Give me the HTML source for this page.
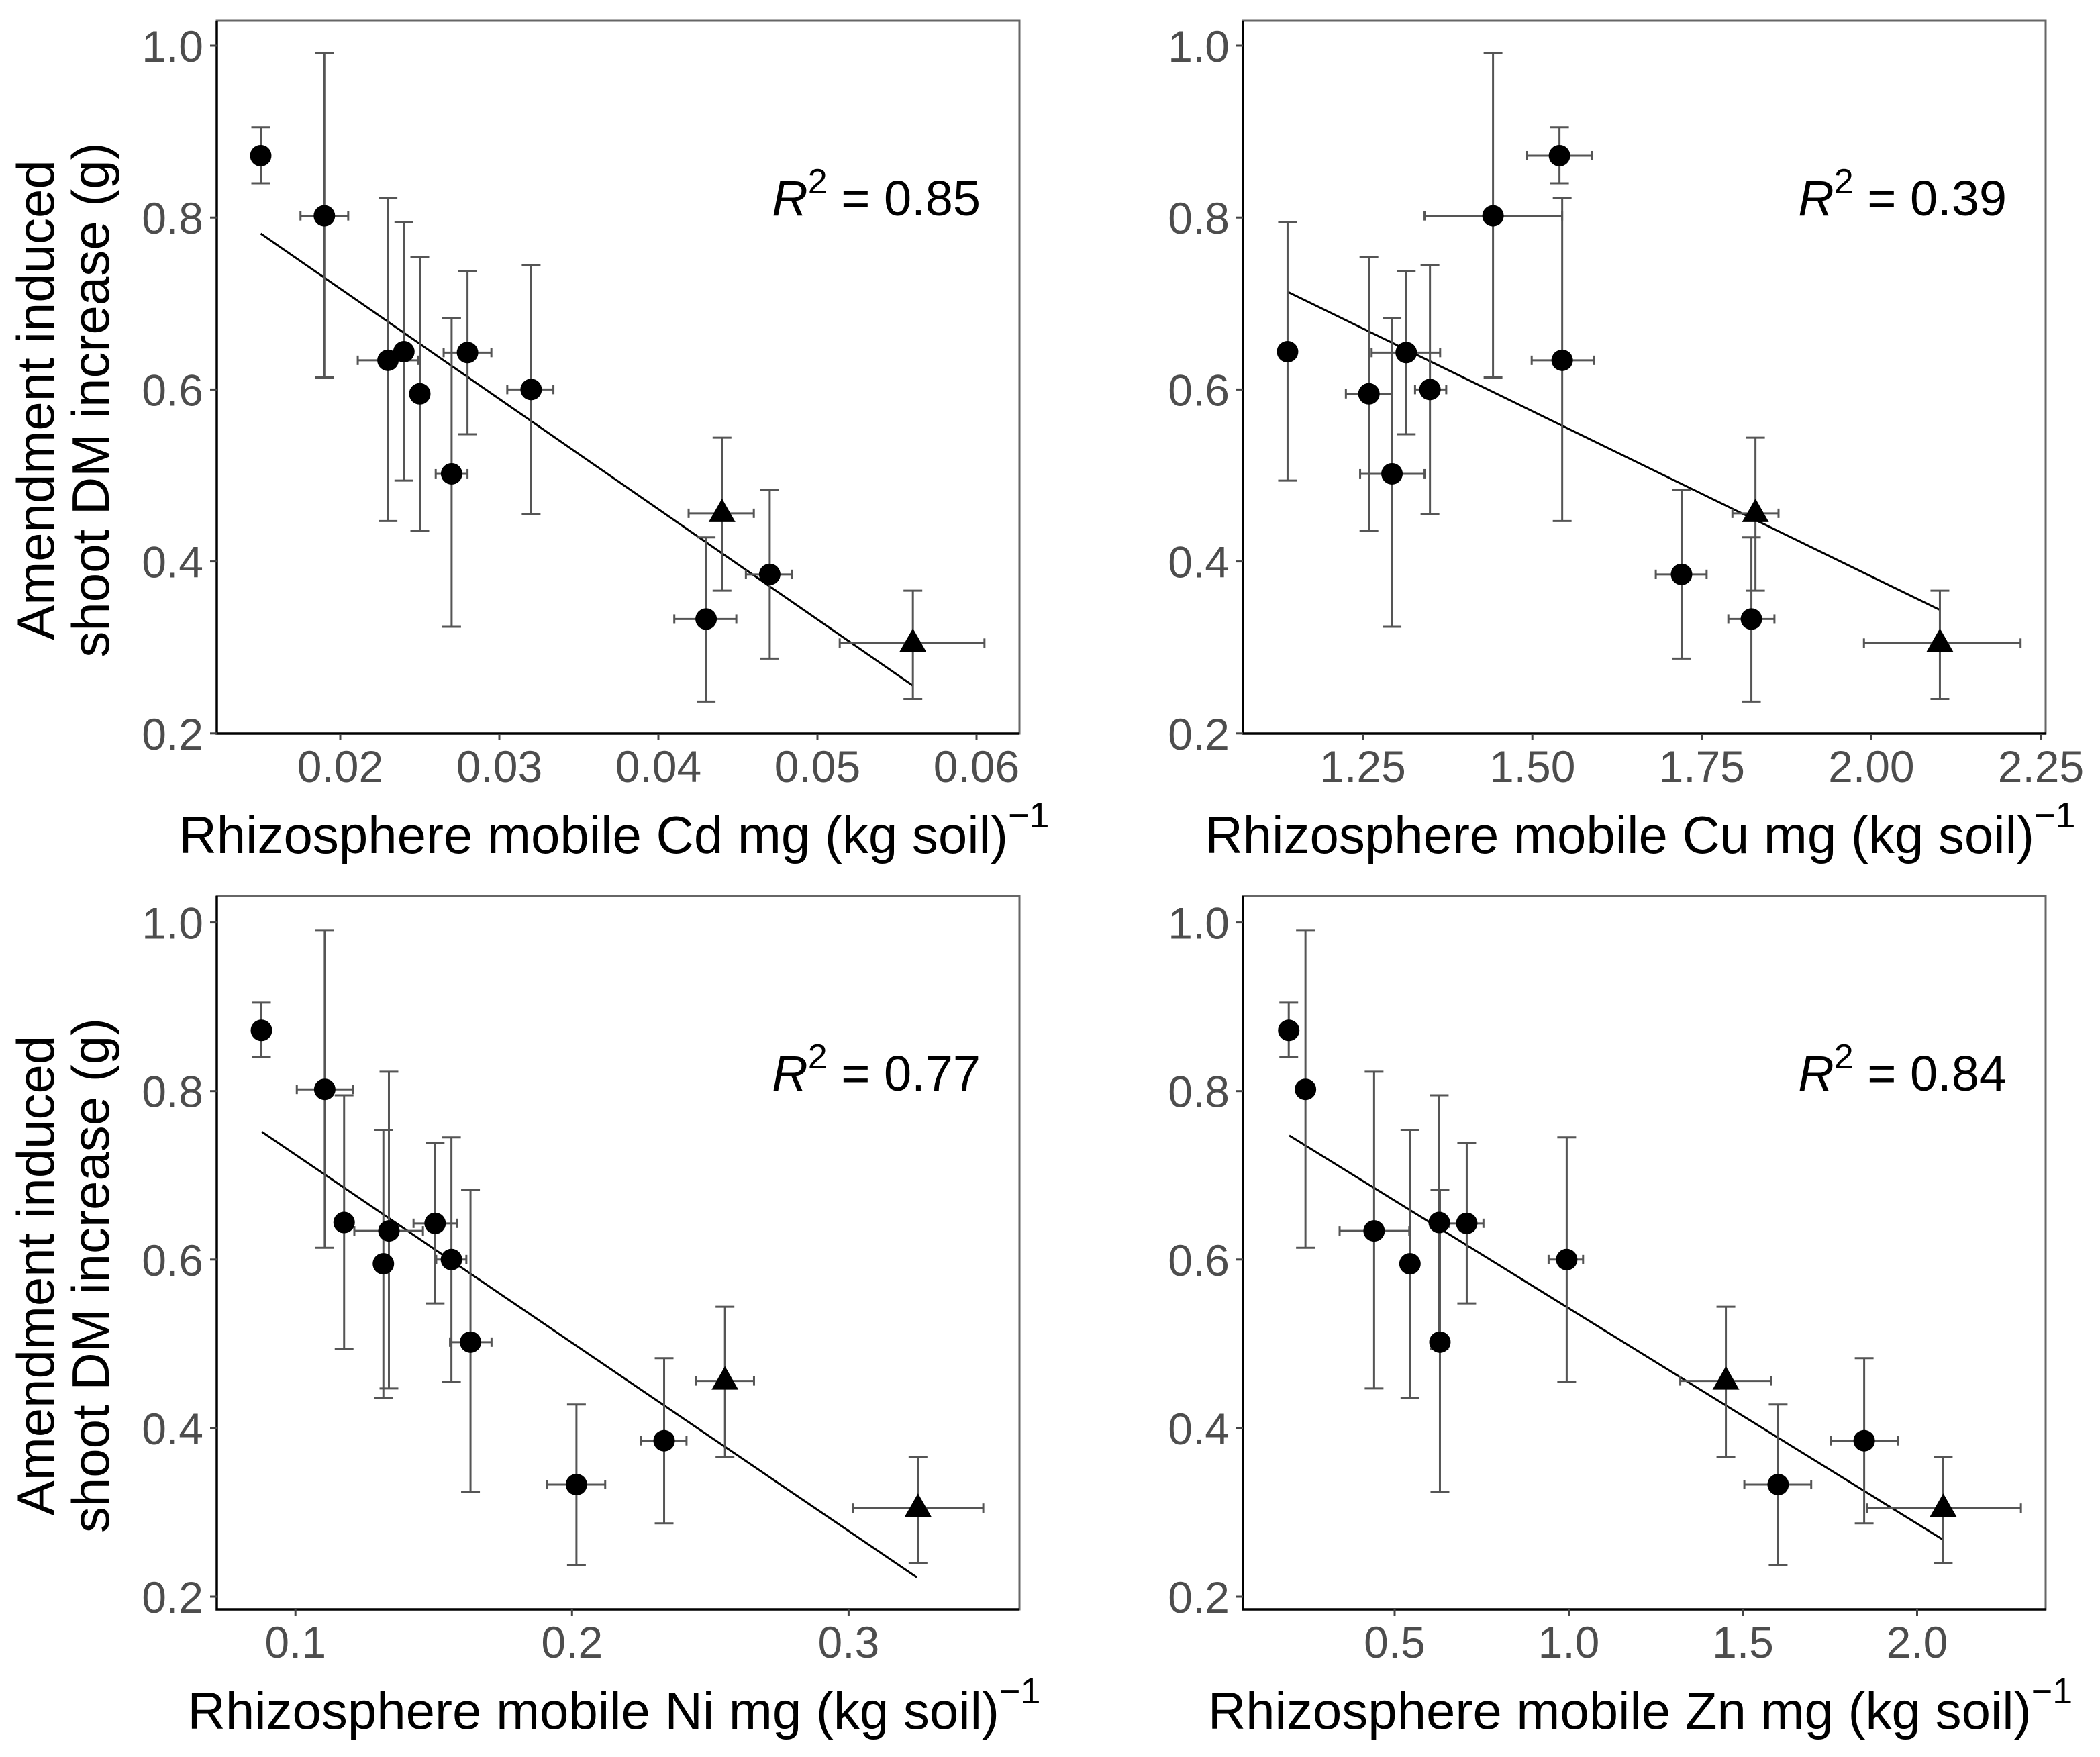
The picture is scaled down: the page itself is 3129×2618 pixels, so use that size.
<!DOCTYPE html>
<html><head><meta charset="utf-8"><style>
html,body{margin:0;padding:0;background:#fff}
svg{display:block}
</style></head><body>
<svg id="chart" width="3129" height="2618" viewBox="0 0 3129 2618" xmlns="http://www.w3.org/2000/svg" font-family="Liberation Sans, Arial, sans-serif"></svg>
<script>
// Shared response values (shoot DM increase, g)
const yVals = [0.872,0.802,0.634,0.644,0.595,0.502,0.643,0.600,0.456,0.333,0.385,0.305];
const yLo   = [0.840,0.614,0.447,0.494,0.436,0.324,0.548,0.455,0.366,0.237,0.287,0.240];
const yHi   = [0.905,0.991,0.823,0.795,0.754,0.683,0.738,0.745,0.544,0.428,0.483,0.366];
const shapes = ['c','c','c','c','c','c','c','c','t','c','c','t'];
const yTickLabels = ['1.0','0.8','0.6','0.4','0.2'];
const yTickValues = [1.0,0.8,0.6,0.4,0.2];

// Cd
const cdX  = [0.015,0.019,0.023,0.024,0.025,0.027,0.028,0.032,0.044,0.043,0.047,0.056];
const cdLo = [0.015,0.0175,0.0211,0.0237,0.0247,0.026,0.0265,0.0305,0.0419,0.041,0.0455,0.0514];
const cdHi = [0.015,0.0205,0.0249,0.0243,0.0253,0.028,0.0295,0.0334,0.046,0.0449,0.0484,0.0605];
const cdFitX = [0.015,0.056];
const cdFitY = [0.7814,0.2556];
const cdTicks = [0.02,0.03,0.04,0.05,0.06];
const cdTickLabels = ['0.02','0.03','0.04','0.05','0.06'];
// Cu
const cuX  = [1.540,1.442,1.544,1.139,1.259,1.293,1.314,1.349,1.829,1.823,1.720,2.101];
const cuLo = [1.492,1.341,1.499,1.139,1.225,1.246,1.263,1.327,1.795,1.789,1.682,1.989];
const cuHi = [1.588,1.544,1.591,1.139,1.293,1.341,1.364,1.373,1.863,1.857,1.757,2.220];
const cuFitX = [1.139,2.100];
const cuFitY = [0.7137,0.344];
const cuTicks = [1.25,1.50,1.75,2.00,2.25];
const cuTickLabels = ['1.25','1.50','1.75','2.00','2.25'];
// Ni
const niX  = [0.0877,0.1106,0.1338,0.1176,0.1318,0.1633,0.1505,0.1564,0.2553,0.2016,0.2333,0.3251];
const niLo = [0.0877,0.1005,0.1213,0.1176,0.1318,0.1559,0.1427,0.1509,0.2448,0.191,0.2249,0.3015];
const niHi = [0.0877,0.1208,0.1461,0.1176,0.1318,0.1709,0.1585,0.1618,0.2658,0.212,0.2414,0.3487];
const niFitX = [0.0879,0.3247];
const niFitY = [0.7516,0.2228];
const niTicks = [0.1,0.2,0.3];
const niTickLabels = ['0.1','0.2','0.3'];
// Zn
const znX  = [0.196,0.244,0.441,0.628,0.544,0.630,0.707,0.994,1.451,1.601,1.848,2.075];
const znLo = [0.196,0.244,0.342,0.628,0.544,0.630,0.655,0.942,1.320,1.504,1.752,1.856];
const znHi = [0.196,0.244,0.542,0.628,0.544,0.630,0.755,1.041,1.581,1.696,1.945,2.298];
const znFitX = [0.1975,2.073];
const znFitY = [0.7473,0.2679];
const znTicks = [0.5,1.0,1.5,2.0];
const znTickLabels = ['0.5','1.0','1.5','2.0'];

const r2Labels = ['0.85','0.39','0.77','0.84'];

const NS='http://www.w3.org/2000/svg';
const svg=document.getElementById('chart');
function mk(tag,attrs,parent){const e=document.createElementNS(NS,tag);for(const k in attrs)e.setAttribute(k,attrs[k]);(parent||svg).appendChild(e);return e;}

const panels=[
 {key:'cd',el:'Cd',x:cdX,lo:cdLo,hi:cdHi,fx:cdFitX,fy:cdFitY,ticks:cdTicks,tl:cdTickLabels,
  box:[323,31,1519,1093],xr:[507,0.02,23700],yr:[68,1281],r2:r2Labels[0],ylab:true},
 {key:'cu',el:'Cu',x:cuX,lo:cuLo,hi:cuHi,fx:cuFitX,fy:cuFitY,ticks:cuTicks,tl:cuTickLabels,
  box:[1852,31,3048,1093],xr:[2030.6,1.25,1010.4],yr:[68,1281],r2:r2Labels[1],ylab:false},
 {key:'ni',el:'Ni',x:niX,lo:niLo,hi:niHi,fx:niFitX,fy:niFitY,ticks:niTicks,tl:niTickLabels,
  box:[323,1335,1519,2398],xr:[440.2,0.1,4121],yr:[1374.6,1255.5],r2:r2Labels[2],ylab:true},
 {key:'zn',el:'Zn',x:znX,lo:znLo,hi:znHi,fx:znFitX,fy:znFitY,ticks:znTicks,tl:znTickLabels,
  box:[1852,1335,3048,2398],xr:[2078,0.5,519],yr:[1374.6,1255.5],r2:r2Labels[3],ylab:false}
];

panels.forEach(p=>{
  const g=mk('g',{});
  
  
  const X=v=>p.xr[0]+(v-p.xr[1])*p.xr[2];
  const Y=v=>p.yr[0]+(1-v)*p.yr[1];
  const [L,T,R,B]=p.box;
  const bd=mk('rect',{x:L,y:T,width:R-L,height:B-T,fill:'none',stroke:'#666',"stroke-width":3},g);
  
  
  const ax=mk('path',{d:`M${L},${T} L${L},${B} L${R},${B}`,fill:'none',stroke:'#000',"stroke-width":3.5},g);
  
  
  yTickValues.forEach((v,i)=>{
    const y=Y(v);
    const t=mk('line',{x1:L-10,x2:L,y1:y,y2:y,stroke:'#444',"stroke-width":3},g);
    
    
    const tx=mk('text',{x:L-20,y:y+24,"text-anchor":'end',"font-size":66,fill:'#4d4d4d'},g);
    tx.textContent=yTickLabels[i];
    
    
  });
  p.ticks.forEach((v,i)=>{
    const x=X(v);
    const t=mk('line',{x1:x,x2:x,y1:B,y2:B+10,stroke:'#444',"stroke-width":3},g);
    
    
    const tx=mk('text',{x:x,y:B+72,"text-anchor":'middle',"font-size":66,fill:'#4d4d4d'},g);
    tx.textContent=p.tl[i];
    
    
  });
  const cx=(L+R)/2;
  const xt=mk('text',{x:cx-6,y:B+178,"text-anchor":'middle',"font-size":78,fill:'#000'},g);
  
  
  xt.appendChild(document.createTextNode('Rhizosphere mobile '+p.el+' mg (kg soil)'));
  const sup=mk('tspan',{"font-size":54,dy:-38},xt);
  sup.textContent='\u22121';
  if(p.ylab){
    const cy=(T+B)/2+34;
    const yt=mk('text',{transform:`translate(80,${cy}) rotate(-90)`,"text-anchor":'middle',"font-size":78,fill:'#000'},g);
    yt.textContent='Amendment induced';
    
    
    const yt2=mk('text',{transform:`translate(162,${cy}) rotate(-90)`,"text-anchor":'middle',"font-size":78,fill:'#000'},g);
    yt2.textContent='shoot DM increase (g)';
    
    
  }
  const fl=mk('line',{x1:X(p.fx[0]),y1:Y(p.fy[0]),x2:X(p.fx[1]),y2:Y(p.fy[1]),stroke:'#000',"stroke-width":3},g);
  
  
  yVals.forEach((yv,i)=>{
    const x=X(p.x[i]), y=Y(yv);
    const eg=mk('g',{stroke:'#555',"stroke-width":3,fill:'none'},g);
    
    
    const y1=Y(yHi[i]), y2=Y(yLo[i]);
    mk('line',{x1:x,x2:x,y1:y1,y2:y2},eg);
    mk('line',{x1:x-14,x2:x+14,y1:y1,y2:y1},eg);
    mk('line',{x1:x-14,x2:x+14,y1:y2,y2:y2},eg);
    if(p.hi[i]-p.lo[i]>1e-9){
      const xa=X(p.lo[i]), xb=X(p.hi[i]);
      mk('line',{x1:xa,x2:xb,y1:y,y2:y},eg);
      mk('line',{x1:xa,x2:xa,y1:y-7,y2:y+7},eg);
      mk('line',{x1:xb,x2:xb,y1:y-7,y2:y+7},eg);
    }
  });
  yVals.forEach((yv,i)=>{
    const x=X(p.x[i]), y=Y(yv);
    let m;
    if(shapes[i]==='t'){
      m=mk('polygon',{points:`${x},${y-22} ${x-20},${y+13} ${x+20},${y+13}`,fill:'#000'},g);
      
    } else {
      m=mk('circle',{cx:x,cy:y,r:16,fill:'#000'},g);
      
    }
    
  });
  const rt=mk('text',{x:R-58,y:T+290,"text-anchor":'end',"font-size":74,fill:'#000'},g);
  
  
  const ri=mk('tspan',{"font-style":'italic'},rt); ri.textContent='R';
  const r2s=mk('tspan',{"font-size":52,dy:-33},rt); r2s.textContent='2';
  const r3=mk('tspan',{dy:33},rt); r3.textContent=' = '+p.r2;
});
</script>
</body></html>
